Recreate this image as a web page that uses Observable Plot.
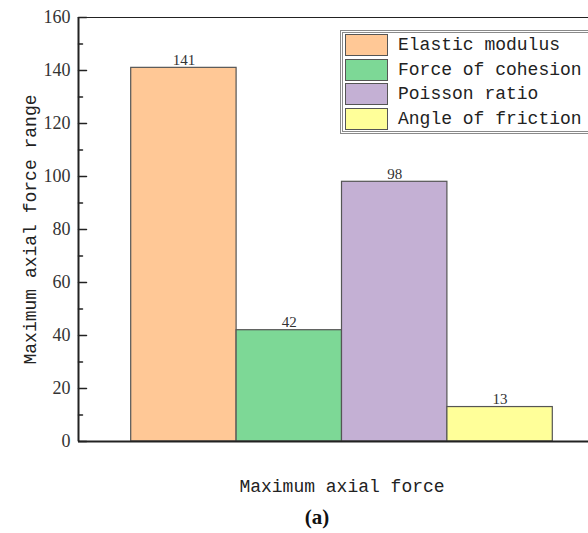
<!DOCTYPE html>
<html>
<head>
<meta charset="utf-8">
<script src="https://cdn.jsdelivr.net/npm/d3@7"></script>
<script src="https://cdn.jsdelivr.net/npm/@observablehq/plot@0.6"></script>
<style>
  html, body { margin: 0; padding: 0; background: #fff; overflow: hidden; width: 588px; height: 533px; }
  #wrap { position: relative; width: 588px; height: 533px; }
  #legend {
    position: absolute; left: 340px; top: 30px; width: 270px; height: 98px;
    border: 3px double #8a8a8a; background: #fff; box-sizing: content-box;
    font-family: "Liberation Mono", monospace; font-size: 18px; color: #222;
  }
  .row { position: absolute; left: 2px; height: 22px; display: flex; align-items: center; }
  .sw { width: 41px; height: 20px; border: 1px solid #555; margin-right: 10px; box-sizing: content-box; }
</style>
</head>
<body>
<div id="wrap"></div>
<script>
const categories = ["Elastic modulus", "Force of cohesion", "Poisson ratio", "Angle of friction"];
const values = [141, 42, 98, 13];
const positions = [1, 2, 3, 4];
const colors = ["#FFC896", "#7DD896", "#C4B0D4", "#FFFF99"];
const yTicks = [0, 20, 40, 60, 80, 100, 120, 140, 160];
const yMinorTicks = [10, 30, 50, 70, 90, 110, 130, 150];
const xLabel = "Maximum axial force";
const yLabel = "Maximum axial force range";
const caption = "(a)";

const data = categories.map((c, i) => ({category: c, value: values[i], pos: positions[i], color: colors[i]}));

const tickShape = {draw(context, l) { context.moveTo(0, 0); context.lineTo(0, -l); }};
const serif = "'Liberation Serif', 'Times New Roman', serif";
const mono = "'Liberation Mono', monospace";

const chart = Plot.plot({
  width: 588,
  height: 533,
  marginLeft: 78,
  marginTop: 17,
  marginBottom: 92,
  marginRight: 0,
  style: {background: "#fff", overflow: "visible"},
  x: {domain: [0, 5], range: [78, 605], axis: null},
  y: {domain: [0, 160], axis: null},
  marks: [
    Plot.rectY(data, {x1: d => d.pos - 0.5, x2: d => d.pos + 0.5, y: "value", fill: "color", stroke: "#555", strokeWidth: 1.2}),
    Plot.text(data, {x: "pos", y: "value", text: d => String(d.value), dy: -8, fontSize: 15, fontFamily: serif, fill: "#333"}),
    Plot.ruleY([160], {stroke: "#222", strokeWidth: 1.2}),
    Plot.ruleY([0], {stroke: "#222", strokeWidth: 2}),
    Plot.ruleX([0], {stroke: "#222", strokeWidth: 2}),
    Plot.vector(yTicks, {y: d => d, frameAnchor: "left", rotate: 90, length: 8, anchor: "start", shape: tickShape, stroke: "#222", strokeWidth: 1.5}),
    Plot.vector(yMinorTicks, {y: d => d, frameAnchor: "left", rotate: 90, length: 4, anchor: "start", shape: tickShape, stroke: "#222", strokeWidth: 1.5}),
    Plot.axisY({ticks: yTicks, tickSize: 0, tickPadding: 8, fontSize: 18, fontFamily: serif, fill: "#333", label: null}),
    Plot.text([yLabel], {frameAnchor: "left", textAnchor: "middle", rotate: -90, dx: -48, fontSize: 18, fontFamily: mono, fill: "#222"}),
    Plot.text([xLabel], {x: 2.5, frameAnchor: "bottom", dy: 50, fontSize: 18, fontFamily: mono, fill: "#222"}),
    Plot.text([caption], {x: 2.5, frameAnchor: "bottom", dy: 82, dx: -25, fontSize: 21, fontWeight: "bold", fontFamily: serif, fill: "#111"})
  ]
});

const wrap = document.getElementById("wrap");
wrap.appendChild(chart);

const legend = document.createElement("div");
legend.id = "legend";
data.forEach((d, i) => {
  const row = document.createElement("div");
  row.className = "row";
  row.style.top = (1 + i * 24.5) + "px";
  const sw = document.createElement("div");
  sw.className = "sw";
  sw.style.background = d.color;
  const label = document.createElement("span");
  label.textContent = d.category;
  row.appendChild(sw);
  row.appendChild(label);
  legend.appendChild(row);
});
wrap.appendChild(legend);
</script>
</body>
</html>
